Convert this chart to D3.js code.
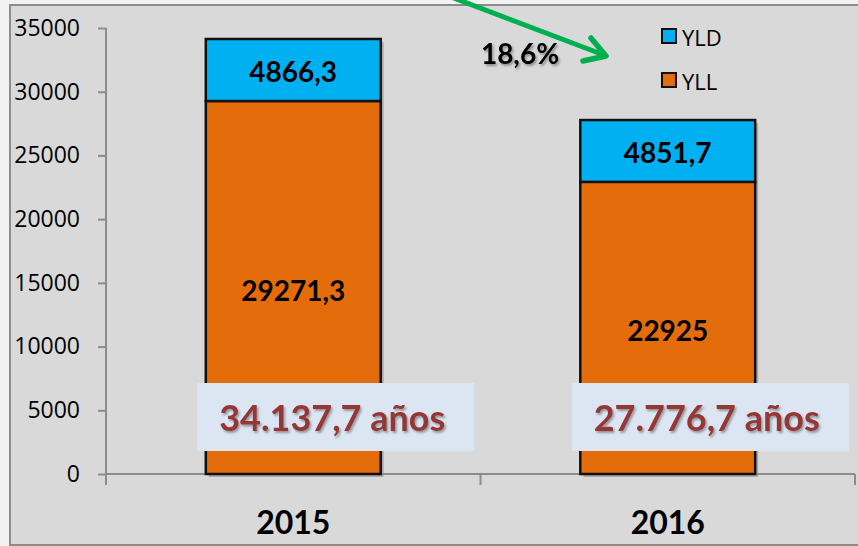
<!DOCTYPE html>
<html>
<head>
<meta charset="utf-8">
<script src="https://cdn.jsdelivr.net/npm/d3@7/dist/d3.min.js"></script>
<style>
  html, body { margin: 0; padding: 0; background: #f2f2f2; }
  svg { display: block; }
</style>
</head>
<body>
<div id="chart"></div>
<script>
const years = ['2015', '2016']
const yld = [4866.3, 4851.7]
const yll = [29271.3, 22925]
const yldLabels = ['4866,3', '4851,7']
const yllLabels = ['29271,3', '22925']
const totalLabels = ['34.137,7 años', '27.776,7 años']
const yTicks = [0, 5000, 10000, 15000, 20000, 25000, 30000, 35000]
const changeLabel = '18,6%'

const W = 858
const H = 546
const colors = { YLD: '#00b0f0', YLL: '#e46c0a' }

const svg = d3.select('#chart').append('svg')
  .attr('width', W)
  .attr('height', H)

const defs = svg.append('defs')
defs.append('filter').attr('id', 'txtShadow')
  .attr('x', '-10%').attr('y', '-20%').attr('width', '130%').attr('height', '150%')
  .append('feDropShadow')
  .attr('dx', 1.5).attr('dy', 2).attr('stdDeviation', 1.2)
  .attr('flood-color', '#000').attr('flood-opacity', 0.35)

// chart area background + frame
svg.append('rect')
  .attr('x', 10).attr('y', 5).attr('width', W + 10).attr('height', H - 6)
  .attr('fill', '#d9d9d9')
  .attr('stroke', '#8c8c8c').attr('stroke-width', 2)

const x = d3.scaleBand().domain(years).range([106, 855]).padding(0)
const y = d3.scaleLinear().domain([0, 35000]).range([474, 28])
const barW = x.bandwidth() * 0.467
const barX = d => x(d) + (x.bandwidth() - barW) / 2

// y axis
const yAxis = d3.axisLeft(y).tickValues(yTicks).tickFormat(d3.format('d'))
  .tickSize(8).tickSizeOuter(0).tickPadding(18)
const gy = svg.append('g').attr('transform', 'translate(106,0)').call(yAxis)
gy.select('.domain').attr('stroke', '#8c8c8c').attr('stroke-width', 2)
  .attr('d', `M0,${y(35000)}V485`)
gy.selectAll('.tick line').attr('stroke', '#8c8c8c').attr('stroke-width', 2)
gy.selectAll('.tick text')
  .attr('fill', '#000')
  .style('font-family', '"Open Sans", sans-serif')
  .style('font-size', '23px')

// x axis
const gx = svg.append('g').attr('transform', 'translate(0,474)')
gx.append('line').attr('x1', 106).attr('x2', 855).attr('y1', 0).attr('y2', 0)
  .attr('stroke', '#8c8c8c').attr('stroke-width', 2)
const bounds = [106, x(years[1]), 855]
gx.selectAll('.xtick').data(bounds).join('line')
  .attr('x1', d => d).attr('x2', d => d).attr('y1', 0).attr('y2', 11)
  .attr('stroke', '#8c8c8c').attr('stroke-width', 2)
gx.selectAll('.xlab').data(years).join('text')
  .attr('x', d => x(d) + x.bandwidth() / 2)
  .attr('y', 60)
  .attr('text-anchor', 'middle')
  .style('font-family', 'Lato, sans-serif')
  .style('font-weight', 'bold')
  .style('font-size', '32px')
  .text(d => d)

// stacked bars
const rows = years.map((yr, i) => ({ yr, yll: yll[i], yld: yld[i], i }))
const bars = svg.append('g')

bars.selectAll('.shadow').data(rows).join('rect')
  .attr('x', d => barX(d.yr) + 3)
  .attr('y', d => y(d.yll + d.yld) + 3)
  .attr('width', barW)
  .attr('height', d => y(0) - y(d.yll + d.yld))
  .attr('fill', '#8a8a8a').attr('opacity', 0.6)

bars.selectAll('.yll').data(rows).join('rect')
  .attr('x', d => barX(d.yr))
  .attr('y', d => y(d.yll))
  .attr('width', barW)
  .attr('height', d => y(0) - y(d.yll))
  .attr('fill', colors.YLL)
  .attr('stroke', '#111').attr('stroke-width', 2.5)

bars.selectAll('.yld').data(rows).join('rect')
  .attr('x', d => barX(d.yr))
  .attr('y', d => y(d.yll + d.yld))
  .attr('width', barW)
  .attr('height', d => y(d.yll) - y(d.yll + d.yld))
  .attr('fill', colors.YLD)
  .attr('stroke', '#111').attr('stroke-width', 2.5)

const valStyle = sel => sel
  .attr('text-anchor', 'middle')
  .attr('dominant-baseline', 'central')
  .style('font-family', 'Lato, sans-serif')
  .style('font-weight', 'bold')
  .style('font-size', '28px')

bars.selectAll('.yldlab').data(rows).join('text')
  .attr('x', d => x(d.yr) + x.bandwidth() / 2)
  .attr('y', d => y(d.yll + d.yld / 2) + 1)
  .call(valStyle)
  .text(d => yldLabels[d.i])

bars.selectAll('.ylllab').data(rows).join('text')
  .attr('x', d => x(d.yr) + x.bandwidth() / 2)
  .attr('y', d => y(d.yll / 2) + 2)
  .call(valStyle)
  .text(d => yllLabels[d.i])

// total annotation boxes
const notes = svg.append('g')
notes.selectAll('rect').data(rows).join('rect')
  .attr('x', d => x(d.yr) + x.bandwidth() / 2 - 96)
  .attr('y', 383)
  .attr('width', 277)
  .attr('height', 68)
  .attr('fill', '#dce6f2')
notes.selectAll('text').data(rows).join('text')
  .attr('x', d => x(d.yr) + x.bandwidth() / 2 + 39)
  .attr('y', 417)
  .attr('text-anchor', 'middle')
  .attr('dominant-baseline', 'central')
  .attr('fill', '#953735')
  .attr('filter', 'url(#txtShadow)')
  .style('font-family', 'Lato, sans-serif')
  .style('font-weight', 'bold')
  .style('font-size', '36px')
  .text(d => totalLabels[d.i])

// change arrow + label
const green = '#00b050'
svg.append('line')
  .attr('x1', 430).attr('y1', -11).attr('x2', 604).attr('y2', 55)
  .attr('stroke', green).attr('stroke-width', 5).attr('stroke-linecap', 'round')
svg.append('path')
  .attr('d', 'M591,38 L606,56 L583,61')
  .attr('fill', 'none')
  .attr('stroke', green).attr('stroke-width', 5.5)
  .attr('stroke-linecap', 'round').attr('stroke-linejoin', 'round')

svg.append('text')
  .attr('x', 520).attr('y', 64)
  .attr('text-anchor', 'middle')
  .attr('filter', 'url(#txtShadow)')
  .style('font-family', 'Lato, sans-serif')
  .style('font-weight', 'bold')
  .style('font-size', '28px')
  .text(changeLabel)

// legend
const legend = svg.append('g').attr('transform', 'translate(662,0)')
const keys = ['YLD', 'YLL']
const ly = [36, 80]
legend.selectAll('rect').data(keys).join('rect')
  .attr('x', 0).attr('y', (d, i) => ly[i] - 7)
  .attr('width', 14).attr('height', 14)
  .attr('fill', d => colors[d])
  .attr('stroke', '#111').attr('stroke-width', 2)
legend.selectAll('text').data(keys).join('text')
  .attr('x', 20).attr('y', (d, i) => ly[i] + 1)
  .attr('dominant-baseline', 'central')
  .style('font-family', '"Open Sans", sans-serif')
  .style('font-size', '22px')
  .text(d => d)
</script>
</body>
</html>
